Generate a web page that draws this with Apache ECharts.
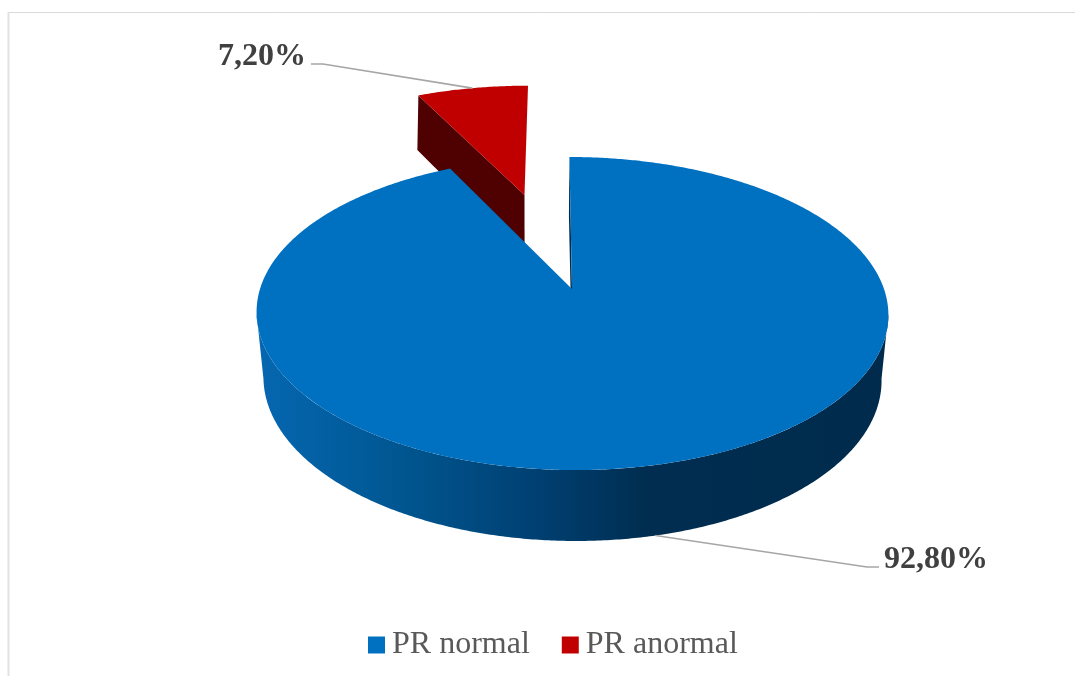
<!DOCTYPE html>
<html>
<head>
<meta charset="utf-8">
<style>
  html, body { margin: 0; padding: 0; background: #fff; }
  #chart { width: 1075px; height: 676px; }
</style>
<script src="https://cdn.jsdelivr.net/npm/echarts@6/dist/echarts.min.js"></script>
</head>
<body>
<div id="chart"></div>
<script>
// PR interval distribution
const categories = ['PR normal', 'PR anormal'];
const values = [92.8, 7.2];
const colors = ['#0070c0', '#c00000'];

// Perspective projection of the pie disc: one plane for the top face, one for the base
const topPlane = { xc: 572, yc: 289, a: 312, b: 152.7, k: 0.1566, m: -3 };
const basePlane = { xc: 572, yc: 356, a: 306, b: 159.1, k: 0.14, m: -3.5 };
const explode = 0.7;
const explodeLeanX = -0.005;

const serifFont = '"Liberation Serif", "Times New Roman", serif';
const labelStyles = [
  { elbowX: 867, elbowY: 567, endX: 879, textX: 884, textY: 560 },
  { elbowX: 323, elbowY: 64, endX: 311, textX: 306, textY: 57 }
];

function project(plane, X, Y) {
  const d = 1 + plane.k * Y;
  return [plane.xc + (plane.a * X + plane.m * Y) / d, plane.yc - plane.b * Y / d];
}

// Rim point at angle deg, clockwise from 12 o'clock, optionally moved out by (ox, oy)
function rim(plane, deg, ox, oy) {
  const r = deg * Math.PI / 180;
  return project(plane, Math.sin(r) + ox, Math.cos(r) + oy);
}

function arc(plane, from, to, ox, oy) {
  const pts = [];
  const n = Math.max(2, Math.ceil(Math.abs(to - from) * 2));
  for (let i = 0; i <= n; i++) pts.push(rim(plane, from + (to - from) * i / n, ox, oy));
  return pts;
}

function tangentAngle(plane) {
  return Math.acos(-plane.k) * 180 / Math.PI;
}

function leader(anchor, s) {
  return {
    type: 'polyline',
    silent: true,
    shape: { points: [anchor, [s.elbowX, s.elbowY], [s.endX, s.elbowY]] },
    style: { stroke: '#a6a6a6', lineWidth: 1.6, fill: null }
  };
}

function valueLabel(text, s, align) {
  return {
    type: 'text',
    silent: true,
    style: {
      text: text, x: s.textX, y: s.textY, align: align, verticalAlign: 'middle',
      font: 'bold 32px ' + serifFont, fill: '#404040'
    }
  };
}

const percentText = v => v.toFixed(2).replace('.', ',') + '%';
const total = values.reduce((s, v) => s + v, 0);

// Main slice runs clockwise from 12 o'clock; it is left whole on the disc
function renderNormal(params, api) {
  const v = api.value(0);
  const end = 360 * v / total;
  const mid = end / 2;
  // The visible wall spans the silhouette tangents of each rim
  const topT = tangentAngle(topPlane);
  const baseT = tangentAngle(basePlane);
  const frontTop = arc(topPlane, topT, 360 - topT, 0, 0);
  const frontBase = arc(basePlane, 360 - baseT, baseT, 0, 0);
  const apexTop = project(topPlane, 0, 0);
  const apexBase = project(basePlane, 0, 0);
  return {
    type: 'group',
    children: [
      {
        type: 'polygon', silent: true,
        shape: { points: [apexTop, rim(topPlane, 0, 0, 0), rim(basePlane, 0, 0, 0), apexBase] },
        style: { fill: '#002b4d' }
      },
      {
        type: 'polygon', silent: true,
        shape: { points: frontTop.concat(frontBase) },
        style: {
          fill: {
            type: 'linear', x: 0, y: 0, x2: 1, y2: 0,
            colorStops: [
              { offset: 0, color: '#0567b1' },
              { offset: 0.24, color: '#00558f' },
              { offset: 0.46, color: '#003e6f' },
              { offset: 0.62, color: '#002d50' },
              { offset: 1, color: '#002b4d' }
            ]
          }
        }
      },
      {
        type: 'polygon', silent: true,
        shape: { points: [apexTop].concat(arc(topPlane, 0, end, 0, 0)) },
        style: { fill: colors[0] }
      },
      leader(rim(basePlane, mid, 0, 0), labelStyles[0]),
      valueLabel(percentText(v), labelStyles[0], 'left')
    ]
  };
}

// Small slice fills the gap before 12 o'clock and is pulled out along its bisector
function renderAbnormal(params, api) {
  const v = api.value(0);
  const sweep = 360 * v / total;
  const mid = -sweep / 2 * Math.PI / 180;
  const ox = Math.sin(mid) * explode + explodeLeanX;
  const oy = Math.cos(mid) * explode;
  const apexTop = project(topPlane, ox, oy);
  const apexBase = project(basePlane, ox, oy);
  const cornerTop = rim(topPlane, -sweep, ox, oy);
  const cornerBase = rim(basePlane, -sweep, ox, oy);
  return {
    type: 'group',
    children: [
      {
        type: 'polygon', silent: true,
        shape: { points: [apexTop, cornerTop, cornerBase, apexBase] },
        style: { fill: '#4f0000' }
      },
      {
        type: 'polygon', silent: true,
        shape: { points: [apexTop].concat(arc(topPlane, -sweep, 0, ox, oy)) },
        style: { fill: colors[1] }
      },
      leader(rim(topPlane, -sweep / 2, ox, oy), labelStyles[1]),
      valueLabel(percentText(v), labelStyles[1], 'right')
    ]
  };
}

const chart = echarts.init(document.getElementById('chart'), null, { renderer: 'canvas' });
chart.setOption({
  animation: false,
  backgroundColor: '#ffffff',
  color: colors,
  legend: {
    data: categories,
    left: 368,
    top: 629,
    icon: 'rect',
    itemWidth: 17,
    itemHeight: 17,
    itemGap: 32,
    padding: 0,
    selectedMode: false,
    textStyle: { fontFamily: serifFont, fontSize: 32, color: '#595959', padding: [0, 0, 0, 2] }
  },
  graphic: [
    { type: 'line', silent: true, shape: { x1: 8, y1: 12.5, x2: 1075, y2: 12.5 }, style: { stroke: '#d9d9d9', lineWidth: 1 } },
    { type: 'line', silent: true, shape: { x1: 8.5, y1: 12, x2: 8.5, y2: 676 }, style: { stroke: '#e2e2e2', lineWidth: 2 } }
  ],
  series: [
    {
      type: 'custom', name: categories[1], coordinateSystem: 'none', z: 2,
      itemStyle: { color: colors[1] },
      renderItem: renderAbnormal,
      data: [[values[1]]]
    },
    {
      type: 'custom', name: categories[0], coordinateSystem: 'none', z: 3,
      itemStyle: { color: colors[0] },
      renderItem: renderNormal,
      data: [[values[0]]]
    }
  ]
});
</script>
</body>
</html>
